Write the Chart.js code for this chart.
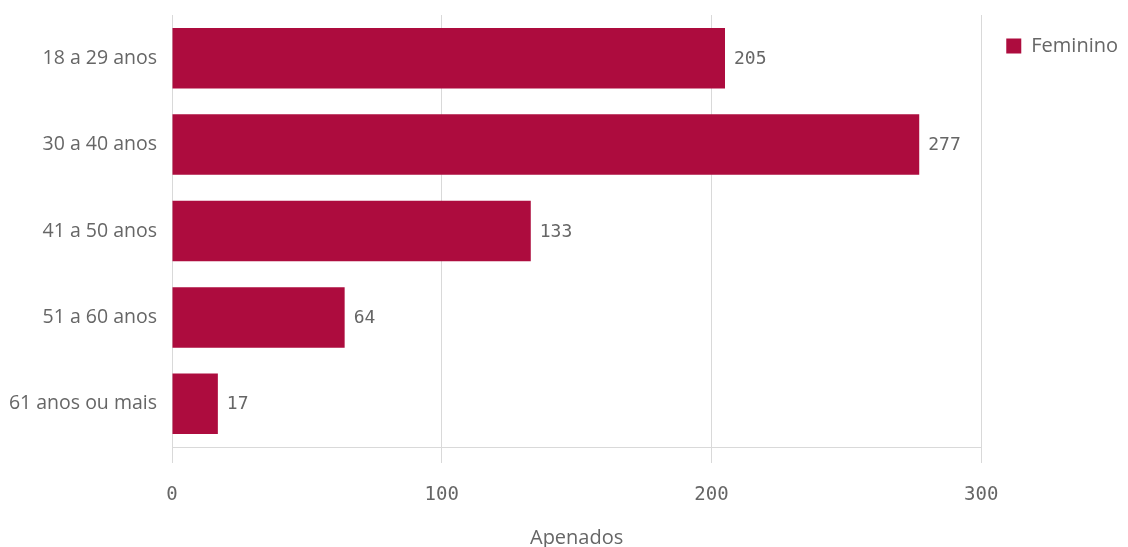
<!DOCTYPE html>
<html>
<head>
<meta charset="utf-8">
<script src="https://cdn.jsdelivr.net/npm/chart.js@4"></script>
<style>
  html, body { margin: 0; padding: 0; background: #fff; }
  #wrap { width: 1128px; height: 547px; }
</style>
</head>
<body>
<div id="wrap"><canvas id="chart"></canvas></div>
<script>
// dados
const faixas = ["18 a 29 anos", "30 a 40 anos", "41 a 50 anos", "51 a 60 anos", "61 anos ou mais"];
const feminino = [205, 277, 133, 64, 17];
const xTicks = [0, 100, 200, 300];

const cor = "#ad0c3e";
const cinza = "#666666";

// rótulos no fim das barras
const valueLabels = {
  id: "valueLabels",
  afterDatasetsDraw(chart) {
    const ctx = chart.ctx;
    const meta = chart.getDatasetMeta(0);
    ctx.save();
    ctx.font = "18px 'DejaVu Sans Mono'";
    ctx.fillStyle = cinza;
    ctx.textBaseline = "middle";
    meta.data.forEach((bar, i) => {
      ctx.fillText(feminino[i], bar.x + 9, bar.y + 1);
    });
    ctx.restore();
  }
};

const ctx = document.getElementById("chart").getContext("2d");
new Chart(ctx, {
  type: "bar",
  data: {
    labels: faixas,
    datasets: [{
      label: "Feminino",
      data: feminino,
      backgroundColor: cor,
      borderWidth: 0,
      barPercentage: 0.7,
      categoryPercentage: 1
    }]
  },
  plugins: [valueLabels],
  options: {
    indexAxis: "y",
    responsive: true,
    maintainAspectRatio: false,
    animation: false,
    layout: { padding: { top: 11, left: 4, right: 0, bottom: 0 } },
    plugins: {
      tooltip: { enabled: false },
      legend: {
        position: "right",
        align: "start",
        labels: {
          boxWidth: 15,
          boxHeight: 15,
          padding: 25,
          color: cinza,
          font: { family: "'Open Sans'", size: 20 }
        }
      }
    },
    scales: {
      x: {
        min: 0,
        max: 300,
        afterBuildTicks(axis) {
          axis.ticks = xTicks.map(v => ({ value: v }));
        },
        afterFit(axis) {
          axis.height = 100;
        },
        grid: {
          color: "#d9d9d9",
          tickLength: 16,
          drawTicks: true
        },
        border: { color: "#d9d9d9" },
        ticks: {
          color: cinza,
          padding: 21,
          font: { family: "'DejaVu Sans Mono'", size: 19 }
        },
        title: {
          display: true,
          text: "Apenados",
          color: cinza,
          padding: { top: 0, bottom: -3 },
          font: { family: "'Open Sans'", size: 20 }
        }
      },
      y: {
        afterFit(axis) {
          axis.width = 168;
          axis.paddingTop = 15;
          axis.paddingBottom = 0;
        },
        grid: { display: false },
        border: { display: false },
        ticks: {
          color: cinza,
          padding: 7,
          font: { family: "'Open Sans'", size: 19.5 }
        }
      }
    }
  }
});
</script>
</body>
</html>
